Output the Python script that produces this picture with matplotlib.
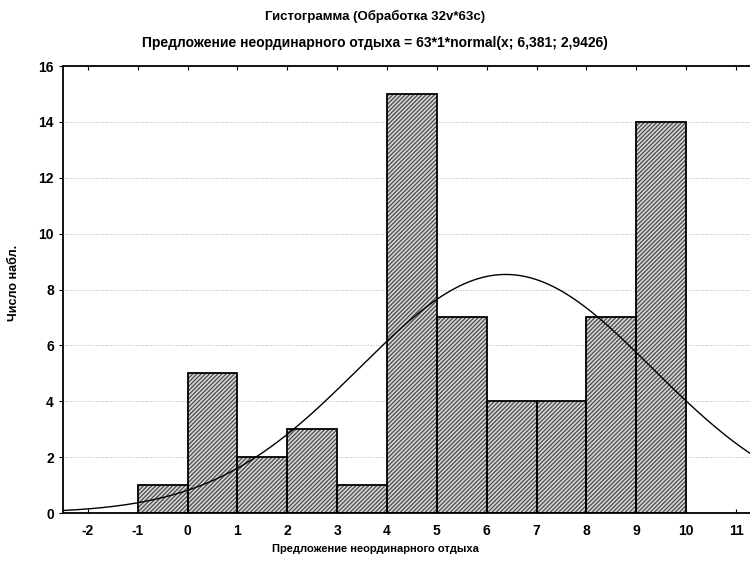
import numpy as np
import matplotlib.pyplot as plt

plt.rcParams['font.family'] = ['Liberation Sans', 'DejaVu Sans']
plt.rcParams['axes.unicode_minus'] = False
plt.rcParams['hatch.linewidth'] = 0.9

# histogram bins (left edges) and counts
bin_left = [-1, 0, 1, 2, 3, 4, 5, 6, 7, 8, 9]
counts = [1, 5, 2, 3, 1, 15, 7, 4, 4, 7, 14]
n_obs = 63
bin_w = 1
mu = 6.381
sigma = 2.9426

title1 = 'Гистограмма (Обработка 32v*63c)'
title2 = 'Предложение неординарного отдыха = 63*1*normal(x; 6,381; 2,9426)'
xlab = 'Предложение неординарного отдыха'
ylab = 'Число набл.'

fig = plt.figure(figsize=(7.5, 5.65), dpi=100)
ax = fig.add_axes([0.084, 0.092, 0.916, 0.791])

# hatch fill in gray, then black outlines on top
ax.bar(bin_left, counts, width=bin_w, align='edge', facecolor='#d6d6d6',
       edgecolor='#4a4a4a', hatch='////////', linewidth=0, zorder=2)
ax.bar(bin_left, counts, width=bin_w, align='edge', fill=False,
       edgecolor='black', linewidth=1.3, zorder=2.5)

# fitted normal curve from the title: 63*1*normal(x; mu; sigma)
xs = np.linspace(-2.5, 11.5, 300)
ys = n_obs * bin_w * np.exp(-0.5 * ((xs - mu) / sigma) ** 2) / (sigma * np.sqrt(2 * np.pi))
ax.plot(xs, ys, color='black', lw=1.0, zorder=3)

ax.set_xlim(-2.5, 11.28)
ax.set_ylim(0, 16)
ax.set_xticks(range(-2, 12))
ax.set_yticks(range(0, 17, 2))
ax.yaxis.grid(True, linestyle=(0, (1, 2)), color='#999999', lw=0.6)
ax.set_axisbelow(True)
ax.spines['right'].set_visible(False)
for s in ['top', 'left', 'bottom']:
    ax.spines[s].set_linewidth(1.3)
ax.tick_params(axis='x', direction='in', length=3, top=True, pad=8)
ax.tick_params(axis='y', direction='out', length=3)
for lab in ax.get_xticklabels() + ax.get_yticklabels():
    lab.set_fontweight('bold')
    lab.set_fontsize(10)

fig.text(0.5, 0.970, title1, ha='center', va='center', fontsize=9.5, fontweight='bold')
fig.text(0.5, 0.924, title2, ha='center', va='center', fontsize=10, fontweight='bold')
fig.text(0.5, 0.028, xlab, ha='center', va='center', fontsize=8, fontweight='bold')
fig.text(0.019, 0.50, ylab, ha='center', va='center', rotation=90, fontsize=9, fontweight='bold')

fig.savefig('out.png', dpi=100)
